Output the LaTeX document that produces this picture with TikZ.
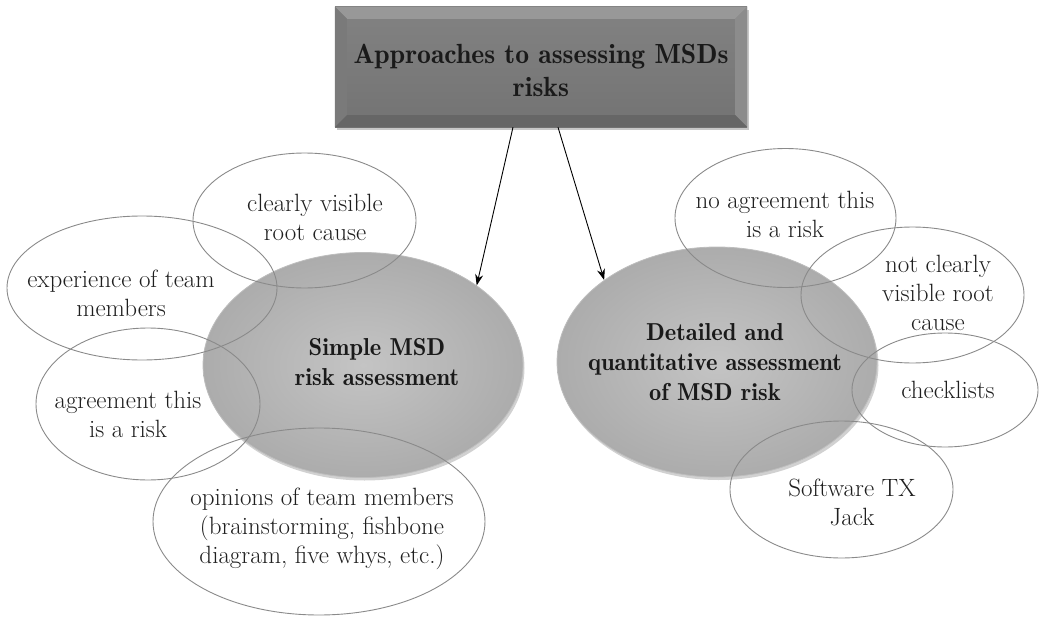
\documentclass[tikz,border=0pt]{standalone}
\usetikzlibrary{shapes.geometric,calc,shadows,arrows.meta}

\definecolor{rimgray}{HTML}{8A8A8A}
\definecolor{txt}{HTML}{1F1F1F}
\definecolor{boldtxt}{HTML}{1A1A1A}
\definecolor{ballin}{HTML}{C4C4C4}
\definecolor{ballout}{HTML}{ACACAC}
\definecolor{ballrim}{HTML}{BDBDBD}
\definecolor{facetop}{HTML}{828282}
\definecolor{facebot}{HTML}{737373}
\definecolor{beveltop}{HTML}{989898}
\definecolor{bevelleft}{HTML}{7A7A7A}
\definecolor{bevelright}{HTML}{8C8C8C}
\definecolor{bevelbot}{HTML}{666666}

% demi-bold serif for the headings
\newcommand{\demiface}{\fontseries{b}\selectfont}

\begin{document}
\begin{tikzpicture}[x=1pt,y=-1pt,
  titlebox/.style={rectangle, minimum width=412pt, minimum height=120pt,
    inner sep=0pt, top color=facetop, bottom color=facebot,
    drop shadow={shadow xshift=2pt, shadow yshift=-3pt, opacity=0.22, fill=black}},
  titletext/.style={align=center, text=boldtxt, inner sep=0pt,
    font=\fontsize{27.7}{33}\selectfont\demiface},
  ball/.style={ellipse, inner sep=0pt, inner color=ballin, outer color=ballout,
    draw=ballrim, line width=0.8pt,
    drop shadow={shadow xshift=1.5pt, shadow yshift=-3pt, opacity=0.18, fill=black}},
  balltext/.style={align=center, text=boldtxt, inner sep=0pt,
    font=\fontsize{24.5}{30}\selectfont\demiface},
  bubble/.style={ellipse, draw=rimgray, line width=0.9pt, inner sep=0pt},
  bubbletext/.style={align=center, text=txt, inner sep=0pt,
    font=\fontsize{25}{29}\selectfont},
  arr/.style={-{Stealth[length=11pt,width=8pt]}, line width=0.9pt, black}
]
\useasboundingbox (0,0) rectangle (1042,618);

% heading box with bevelled edges
\node[titlebox] (title) at (541,67) {};
\fill[beveltop] (title.north west) -- (title.north east)
  -- ($(title.north east)+(-12,12)$) -- ($(title.north west)+(12,12)$) -- cycle;
\fill[bevelleft] (title.north west) -- ($(title.north west)+(12,12)$)
  -- ($(title.south west)+(12,-12)$) -- (title.south west) -- cycle;
\fill[bevelright] (title.north east) -- ($(title.north east)+(-12,12)$)
  -- ($(title.south east)+(-12,-12)$) -- (title.south east) -- cycle;
\fill[bevelbot] (title.south west) -- ($(title.south west)+(12,-12)$)
  -- ($(title.south east)+(-12,-12)$) -- (title.south east) -- cycle;
\node[titletext] (titlelabel) at (541,70) {Approaches to assessing MSDs\\risks};

% the two approaches
\node[ball, minimum width=320pt, minimum height=225pt] (simple) at (363,365) {};
\node[ball, minimum width=320pt, minimum height=230pt] (detail) at (717,362) {};

% factors around the simple approach
\node[bubble, minimum width=223pt, minimum height=135pt] (clear) at (304.5,220.5) {};
\node[bubble, minimum width=270pt, minimum height=144pt] (exper) at (142,288) {};
\node[bubble, minimum width=224pt, minimum height=152pt] (agree) at (148,404) {};
\node[bubble, minimum width=332pt, minimum height=187pt] (opin) at (319,521.5) {};

% factors around the detailed approach
\node[bubble, minimum width=221pt, minimum height=139pt] (noagree) at (785.5,218) {};
\node[bubble, minimum width=223pt, minimum height=136pt] (notclear) at (912.5,295) {};
\node[bubble, minimum width=186pt, minimum height=114pt] (check) at (945,390) {};
\node[bubble, minimum width=223pt, minimum height=137pt] (soft) at (841.5,489.5) {};

% labels
\node[balltext] (simplelabel) at (377,362) {Simple MSD\\risk assessment};
\node[balltext] (detaillabel) at (715,362) {Detailed and\\quantitative assessment\\of MSD risk};

\node[bubbletext] (clearlabel) at (315,217) {clearly visible\\root cause};
\node[bubbletext] (experlabel) at (121,293) {experience of team\\members};
\node[bubbletext] (agreelabel) at (128,414) {agreement this\\is a risk};
\node[bubbletext] (opinlabel) at (322,529) {opinions of team members\\(brainstorming, fishbone\\diagram, five whys, etc.)};
\node[bubbletext] (noagreelabel) at (785,214) {no agreement this\\is a risk};
\node[bubbletext] (notclearlabel) at (938,293) {not clearly\\visible root\\cause};
\node[bubbletext] (checklabel) at (948,390) {checklists};
\node[bubbletext] (softlabel) at (852,502) {Software TX\\Jack};

% arrows from the heading
\draw[arr] ($(title.south)+(-28,0)$) -- (simple.35);
\draw[arr] ($(title.south)+(17,0)$) -- (detail.144);
\end{tikzpicture}
\end{document}
